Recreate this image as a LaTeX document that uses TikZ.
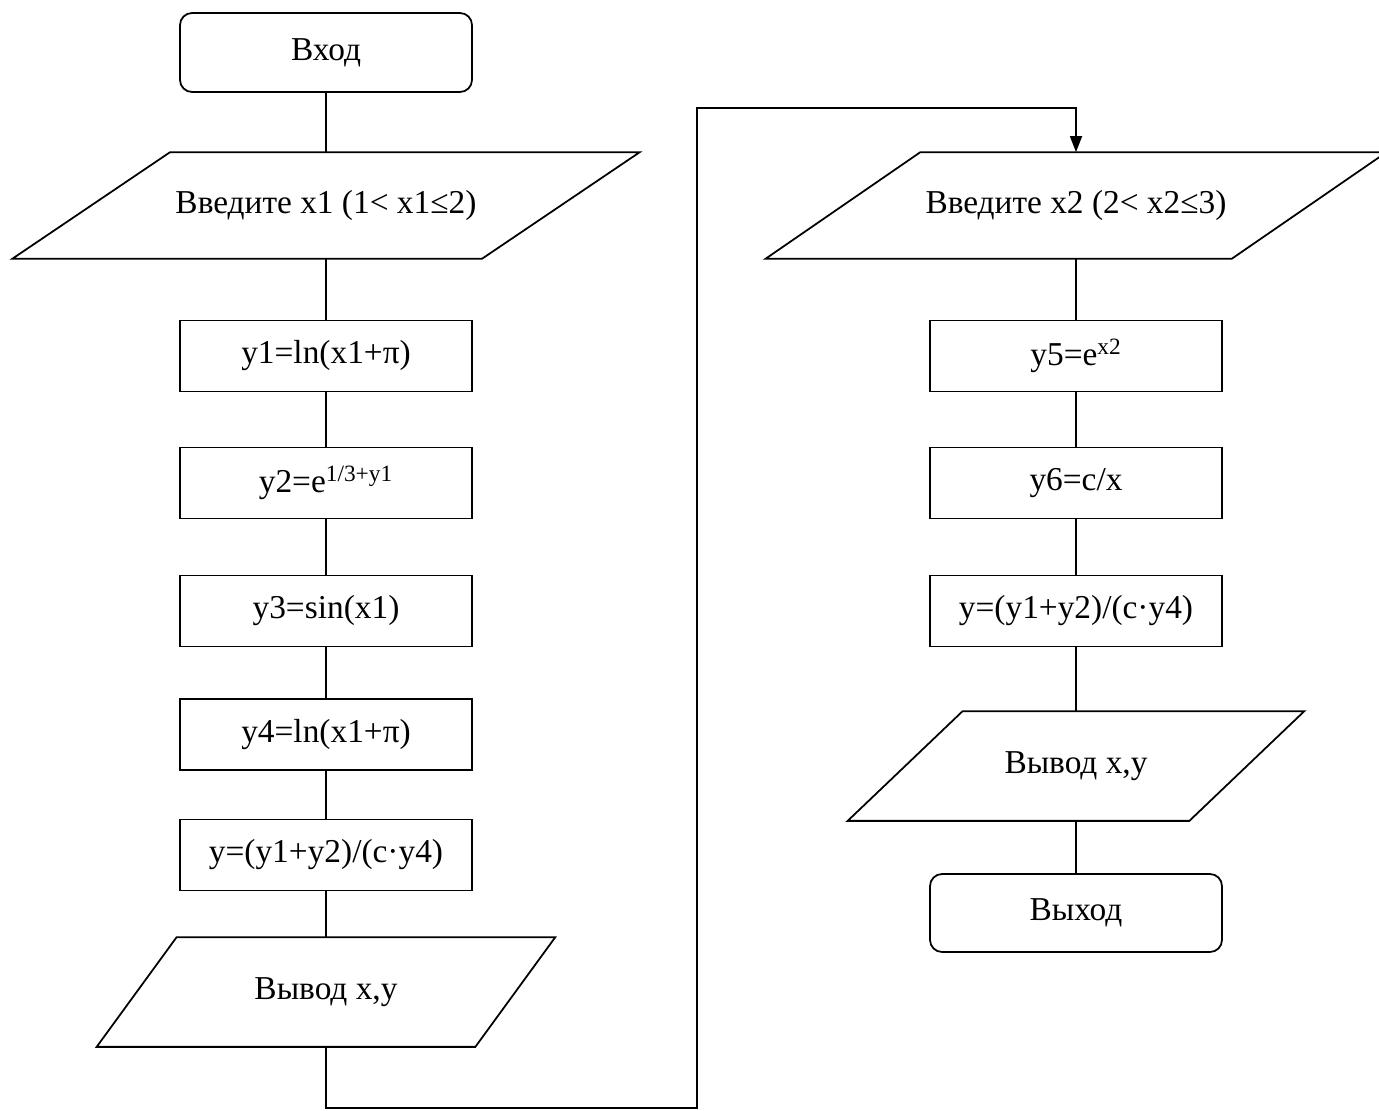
\documentclass[tikz,border=0pt]{standalone}
\usepackage{fontspec}
\setmainfont{Liberation Serif}
\usetikzlibrary{arrows.meta}

\tikzset{
  txt/.style={font=\fontsize{19}{23}\selectfont},
  proc/.style={txt, draw, rectangle, minimum width=5.84cm, minimum height=1.42cm, inner sep=0pt},
  term/.style={proc, rounded corners=0.24cm, minimum height=1.58cm},
  io/.style={txt, rectangle, inner sep=0pt},
}
% parallelogram round an io node: #1 node, #2 half slant
\newcommand{\ioshape}[2]{%
  \draw ([xshift=#2]#1.north west) -- ([xshift=#2]#1.north east)
    -- ([xshift=-#2]#1.south east) -- ([xshift=-#2]#1.south west) -- cycle;}

\begin{document}
\begin{tikzpicture}[x=0.02cm, y=-0.02cm, line width=1pt]
  \useasboundingbox (0,0) rectangle (1379,1111);

  % left column
  \node[term] (enter) at (326,52.5) {Вход};
  \node[io, minimum width=9.36cm, minimum height=2.1cm] (in1) at (326,205.5) {Введите x1 (1< x1≤2)};
  \ioshape{in1}{1.58cm}
  \node[proc] (y1) at (326,356) {y1=ln(x1+π)};
  \node[proc] (y2) at (326,483) {y2=e\textsuperscript{1/3+y1}};
  \node[proc] (y3) at (326,611) {y3=sin(x1)};
  \node[proc] (y4) at (326,734.5) {y4=ln(x1+π)};
  \node[proc] (yres) at (326,855) {y=(y1+y2)/(c·y4)};
  \node[io, minimum width=7.54cm, minimum height=2.16cm] (out1) at (326,992) {Вывод x,y};
  \ioshape{out1}{0.8cm}

  % right column
  \node[io, minimum width=9.29cm, minimum height=2.1cm] (in2) at (1076,205.5) {Введите x2 (2< x2≤3)};
  \ioshape{in2}{1.55cm}
  \node[proc] (y5) at (1076,356) {y5=e\textsuperscript{x2}};
  \node[proc] (y6) at (1076,483) {y6=c/x};
  \node[proc] (yres2) at (1076,611) {y=(y1+y2)/(c·y4)};
  \node[io, minimum width=6.8cm, minimum height=2.16cm] (out2) at (1076,766) {Вывод x,y};
  \ioshape{out2}{1.15cm}
  \node[term, minimum height=1.56cm] (exit) at (1076,913) {Выход};

  \foreach \a/\b in {enter/in1, in1/y1, y1/y2, y2/y3, y3/y4, y4/yres, yres/out1,
                     in2/y5, y5/y6, y6/yres2, yres2/out2, out2/exit}
    \draw (\a) -- (\b);

  % jump to the second column
  \coordinate (c1) at (326,1108);
  \coordinate (c2) at (697,1108);
  \coordinate (c3) at (697,108);
  \coordinate (c4) at (1076,108);
  \draw[-{Triangle[length=0.32cm,width=0.24cm]}] (out1.south) -- (c1) -- (c2) -- (c3) -- (c4) -- (in2.north);
\end{tikzpicture}
\end{document}
